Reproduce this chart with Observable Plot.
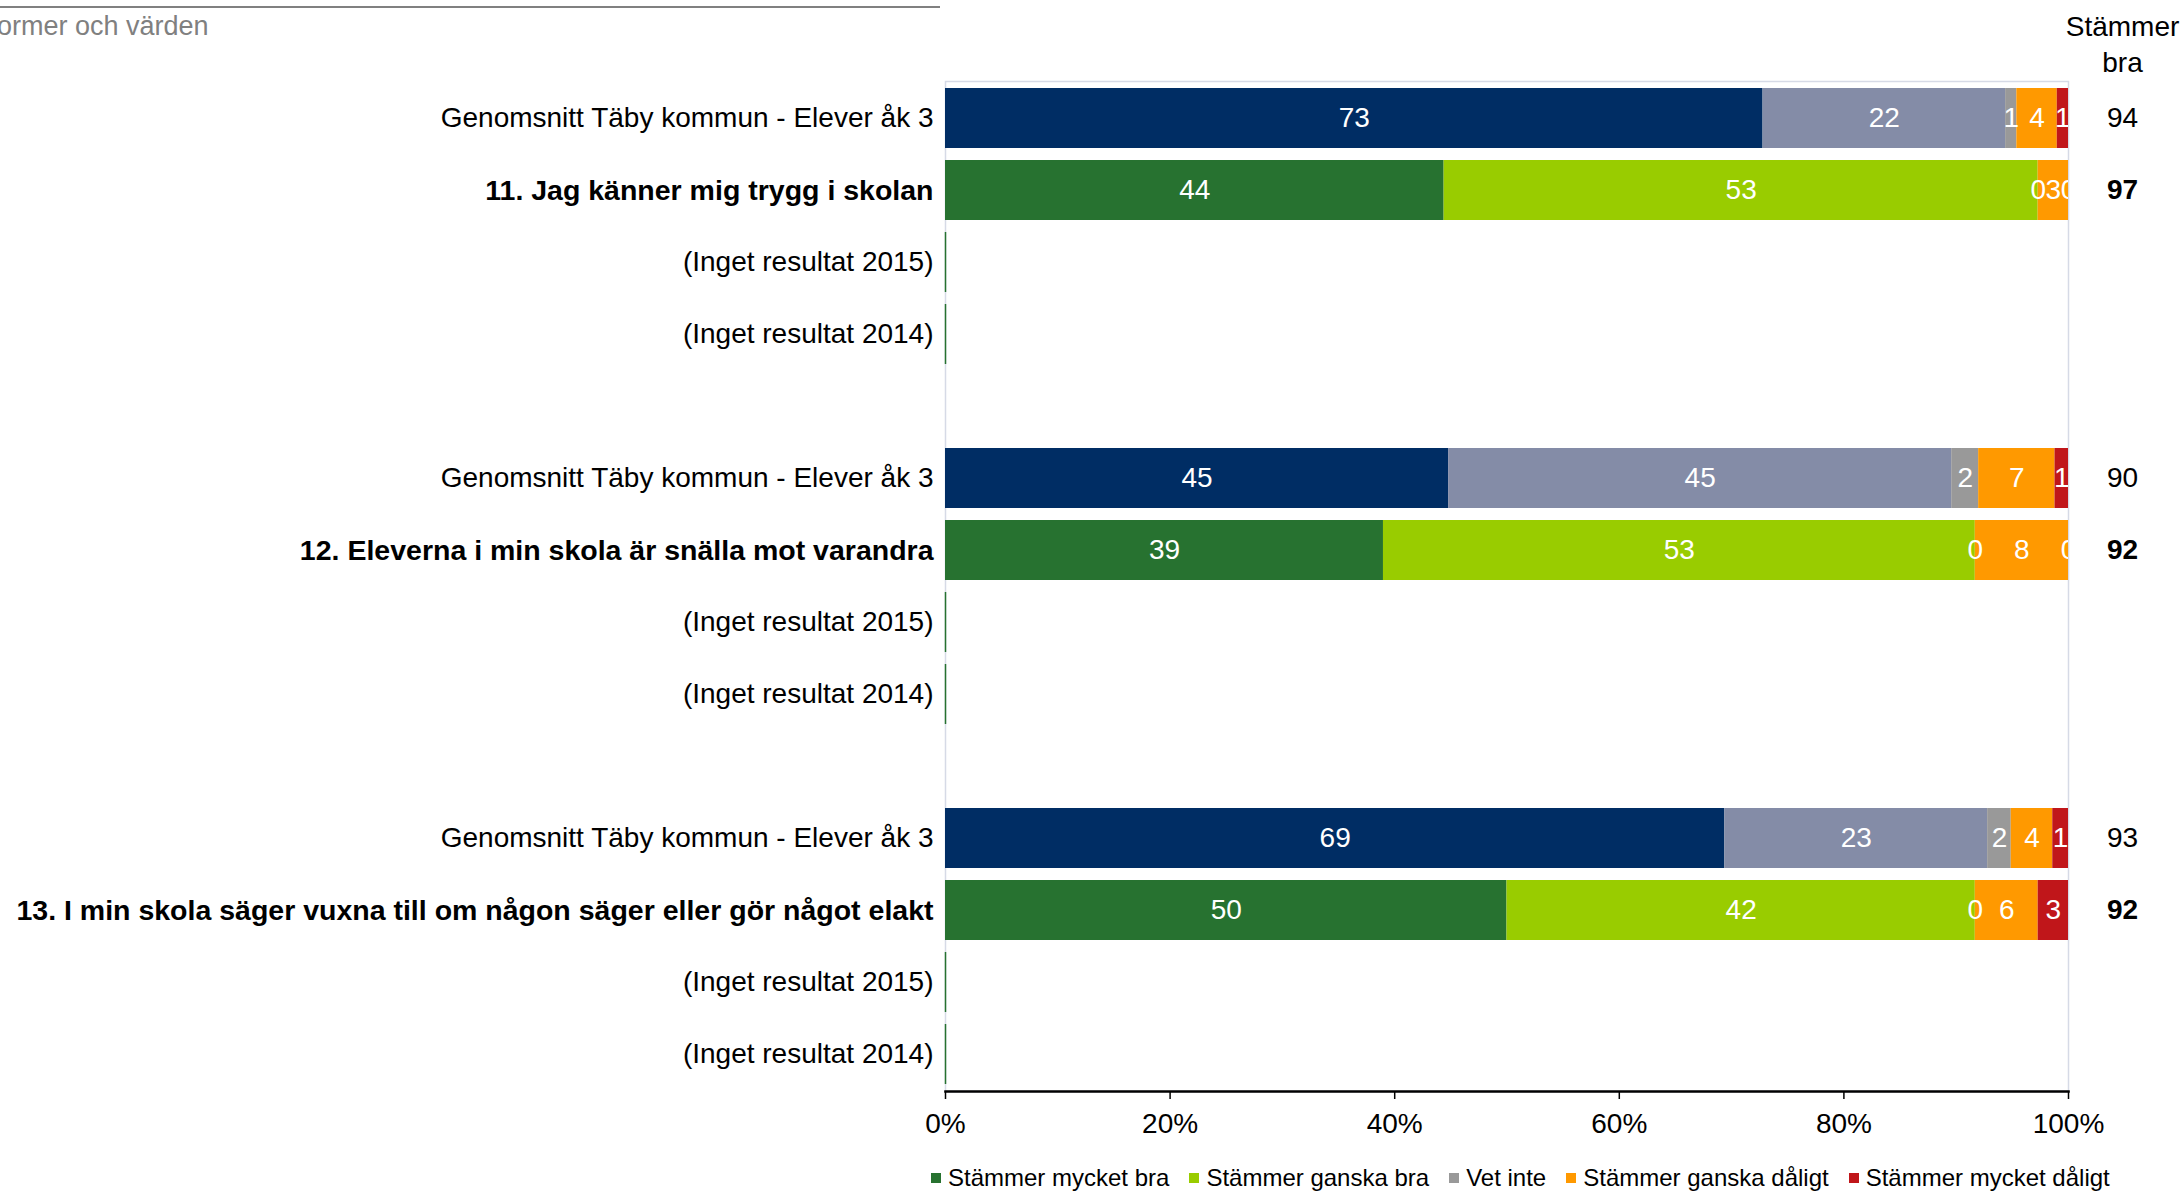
<!DOCTYPE html>
<html>
<head>
<meta charset="utf-8">
<script src="https://cdn.jsdelivr.net/npm/d3@7"></script>
<script src="https://cdn.jsdelivr.net/npm/@observablehq/plot@0.6"></script>
<style>
  html, body { margin: 0; padding: 0; background: #fff; }
  body { font-family: "Liberation Sans", Arial, sans-serif; }
  #wrap { position: relative; width: 2183px; height: 1191px; overflow: hidden; }
  #topline { position: absolute; left: 0; top: 6px; width: 940px; height: 2px; background: #808080; }
  #title { position: absolute; left: -3px; top: 12px; font-size: 27px; line-height: 28px; color: #808080; white-space: nowrap; }
  #chart { position: absolute; left: 0; top: 0; }
  #legend { position: absolute; left: 931px; top: 1164px; display: flex; align-items: center; font-size: 24px; line-height: 28px; color: #000; white-space: nowrap; }
  .item { display: flex; align-items: center; margin-right: 20px; }
  .sw { width: 10px; height: 10px; margin-right: 7px; }
</style>
</head>
<body>
<div id="wrap">
  <div id="topline"></div>
  <div id="title">ormer och värden</div>
  <div id="chart"></div>
  <div id="legend"></div>
</div>
<script>
// ---- data ----
const questions = [
  "11. Jag känner mig trygg i skolan",
  "12. Eleverna i min skola är snälla mot varandra",
  "13. I min skola säger vuxna till om någon säger eller gör något elakt"
];
const tabyLabel = "Genomsnitt Täby kommun - Elever åk 3";
const noResultLabels = ["(Inget resultat 2015)", "(Inget resultat 2014)"];
const categories = ["Stämmer mycket bra", "Stämmer ganska bra", "Vet inte", "Stämmer ganska dåligt", "Stämmer mycket dåligt"];

// segment lengths (percent)
const tabyValues = [
  [72.8, 21.6, 1.0, 3.6, 1.0],
  [44.8, 44.8, 2.4, 6.8, 1.2],
  [69.4, 23.4, 2.1, 3.7, 1.4]
];
const schoolValues = [
  [44.4, 52.9, 0, 2.7, 0],
  [39.0, 52.7, 0, 8.3, 0],
  [50.0, 41.7, 0, 5.6, 2.7]
];
// labels printed in the bars
const tabyLabels = [
  [73, 22, 1, 4, 1],
  [45, 45, 2, 7, 1],
  [69, 23, 2, 4, 1]
];
const schoolLabels = [
  [44, 53, 0, 3, 0],
  [39, 53, 0, 8, 0],
  [50, 42, 0, 6, 3]
];
// "Stämmer bra" column
const tabyStammerBra = [94, 90, 93];
const schoolStammerBra = [97, 92, 92];

const xTicks = [0, 20, 40, 60, 80, 100];

// ---- styles ----
const tabyColors = ["#002d64", "#848ca7", "#999999", "#ff9900", "#c0161a"];
const schoolColors = ["#277230", "#99cc00", "#999999", "#ff9900", "#c0161a"];
const font = "Liberation Sans, Arial, sans-serif";

// ---- build tables ----
const keys = [];
const labelOf = {};
const normalKeys = [], boldKeys = [], emptyKeys = [];
const segments = [];
const rightNormal = [], rightBold = [];

questions.forEach((q, g) => {
  const kT = `g${g}-taby`, kS = `g${g}-school`;
  keys.push(kT); labelOf[kT] = tabyLabel; normalKeys.push(kT);
  keys.push(kS); labelOf[kS] = q; boldKeys.push(kS);
  noResultLabels.forEach((lab, i) => {
    const k = `g${g}-none${i}`;
    keys.push(k); labelOf[k] = lab; normalKeys.push(k); emptyKeys.push(k);
  });
  if (g < questions.length - 1) { const k = `gap${g}`; keys.push(k); labelOf[k] = ""; }
  categories.forEach((c, j) => {
    segments.push({key: kT, cat: c, value: tabyValues[g][j], label: String(tabyLabels[g][j]), color: tabyColors[j]});
  });
  categories.forEach((c, j) => {
    segments.push({key: kS, cat: c, value: schoolValues[g][j], label: String(schoolLabels[g][j]), color: schoolColors[j]});
  });
  rightNormal.push({key: kT, value: String(tabyStammerBra[g])});
  rightBold.push({key: kS, value: String(schoolStammerBra[g])});
});

const chart = Plot.plot({
  width: 2183,
  height: 1150,
  marginTop: 81,
  marginBottom: 59,
  marginLeft: 945,
  marginRight: 115,
  style: {fontFamily: font, fontSize: "28px", background: "transparent", color: "#000", overflow: "visible"},
  x: {domain: [0, 100], axis: null, label: null},
  y: {domain: keys, paddingInner: 0.17, paddingOuter: 0.085, axis: null, label: null},
  color: {type: "identity"},
  marks: [
    Plot.frame({stroke: "#d6dae6", strokeWidth: 1.5}),
    Plot.barX(segments, Plot.stackX({x: "value", y: "key", z: "cat", fill: "color"})),
    Plot.tickX(emptyKeys, {x: () => 0, y: d => d, stroke: "#277230", strokeWidth: 1.5}),
    Plot.text(segments, Plot.stackX({x: "value", y: "key", z: "cat", text: "label", fill: "white", fontSize: 28, clip: true})),
    Plot.frame({anchor: "bottom", stroke: "#000", strokeWidth: 2.5}),
    Plot.axisX({ticks: xTicks, tickFormat: d => d + "%", tickSize: 8, tickPadding: 14, fontSize: 28, stroke: "#000", strokeWidth: 1.5, label: null}),
    Plot.axisY(normalKeys, {tickSize: 0, tickPadding: 12, tickFormat: k => labelOf[k], fontSize: 28, label: null}),
    Plot.axisY(boldKeys, {tickSize: 0, tickPadding: 12, tickFormat: k => labelOf[k], fontSize: 28.5, fontWeight: "bold", label: null}),
    Plot.text(rightNormal, {x: () => 100, y: "key", dx: 54, text: "value", fontSize: 28}),
    Plot.text(rightBold, {x: () => 100, y: "key", dx: 54, text: "value", fontSize: 28, fontWeight: "bold"}),
    Plot.text(["Stämmer\nbra"], {frameAnchor: "top-right", dx: 54, dy: -39, text: d => d, textAnchor: "middle", lineAnchor: "middle", lineHeight: 1.29, fontSize: 28})
  ]
});
document.getElementById("chart").appendChild(chart);

// legend
const legend = document.getElementById("legend");
categories.forEach((c, j) => {
  const item = document.createElement("div");
  item.className = "item";
  const sw = document.createElement("span");
  sw.className = "sw";
  sw.style.background = schoolColors[j];
  const t = document.createElement("span");
  t.textContent = c;
  item.appendChild(sw); item.appendChild(t);
  legend.appendChild(item);
});
</script>
</body>
</html>
